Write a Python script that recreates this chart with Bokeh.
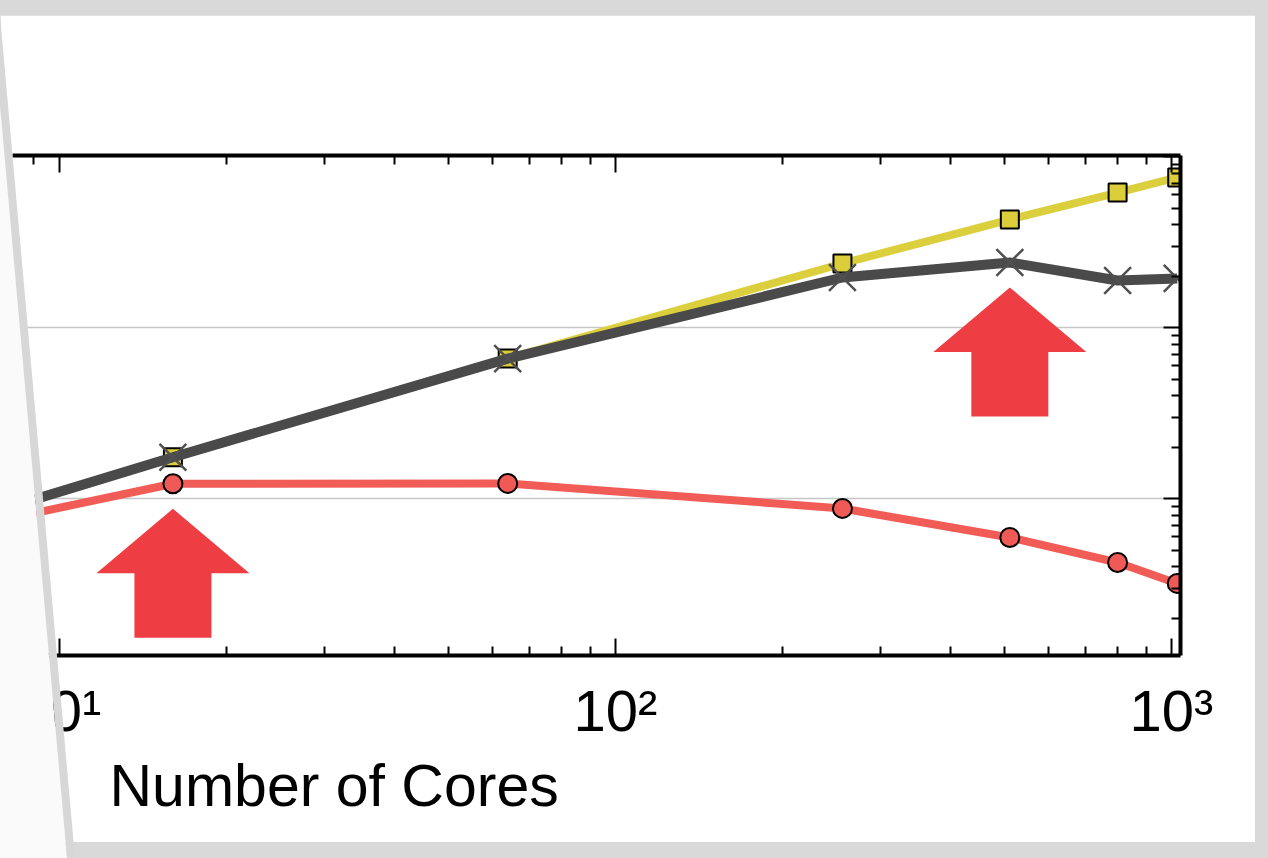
import math
from bokeh.plotting import figure
from bokeh.layouts import column
from bokeh.models import (Range1d, LogAxis, FixedTicker, CustomJSTickFormatter, Title, Div,
                          GlobalInlineStyleSheet)
from bokeh.embed import file_html
from bokeh.resources import INLINE

# ---------------- data ----------------
cores = [8, 16, 64, 256, 512, 800, 1024]
series_yellow = [8.8, 17.5, 66.2, 237.7, 429.6, 618.0, 757.0]
series_black = [8.8, 17.5, 66.0, 196.8, 241.0, 189.0, 194.5]
series_red = [7.6, 12.24, 12.3, 8.78, 5.94, 4.24, 3.20]
x_major_ticks = [10, 100, 1000]
x_tick_labels = ["10\u00b9", "10\u00b2", "10\u00b3"]
y_major_ticks = [1, 10, 100, 1000]
x_label = "Number of Cores"
arrow_cores = [16, 512]          # points the arrows mark
arrow_series = ["red", "black"]  # series whose point each arrow marks

# ---------------- figure ----------------
FONT = "Liberation Sans"
x_lo, x_hi = 8.234, 1038.0
y_lo, y_hi = 1.212, 1017.6
FW, FH = 1168, 500

p = figure(x_axis_type="log", y_axis_type="log",
           x_range=Range1d(x_lo, x_hi), y_range=Range1d(y_lo, y_hi),
           frame_width=FW, frame_height=FH,
           min_border_left=12, min_border_right=75, min_border_top=140, min_border_bottom=187,
           y_axis_location="right", output_backend="svg", toolbar_location=None,
           background_fill_color="white", border_fill_color="white",
           outline_line_color=None)

minor = [m * 10 ** e for e in range(0, 4) for m in range(2, 10)]
xticker = FixedTicker(ticks=x_major_ticks, minor_ticks=minor)
yticker = FixedTicker(ticks=y_major_ticks, minor_ticks=minor)
blank = CustomJSTickFormatter(code="return ''")


def style_axis(ax):
    ax.axis_line_width = 4
    ax.axis_line_color = "black"
    ax.major_tick_in = 17
    ax.major_tick_out = 0
    ax.minor_tick_in = 9
    ax.minor_tick_out = 0
    ax.major_tick_line_width = 2
    ax.minor_tick_line_width = 2
    ax.major_tick_line_color = "black"
    ax.minor_tick_line_color = "black"


xa = p.xaxis[0]
xa.ticker = xticker
xa.major_label_overrides = {t: s for t, s in zip(x_major_ticks, x_tick_labels)}
xa.major_label_text_font = FONT
xa.major_label_text_font_size = "58px"
xa.major_label_text_color = "black"
xa.major_label_standoff = 22
style_axis(xa)

top = LogAxis(ticker=xticker, formatter=blank)
style_axis(top)
p.add_layout(top, "above")

ya = p.yaxis[0]
ya.ticker = yticker
ya.formatter = blank
style_axis(ya)

p.xgrid.visible = False
p.ygrid.ticker = FixedTicker(ticks=y_major_ticks)
p.ygrid.grid_line_color = "#c6c6c6"
p.ygrid.grid_line_width = 1.5

# axis title, left-aligned under the axis
p.add_layout(Title(text=x_label, align="left", offset=97, standoff=11,
                   text_font=FONT, text_font_size="59px", text_font_style="normal",
                   text_color="black"), "below")

# ---------------- series ----------------
p.line(cores, series_red, line_color="#f25c57", line_width=8)
p.scatter(cores, series_red, marker="circle", size=19, fill_color="#f05a56",
          line_color="black", line_width=2)

p.line(cores, series_yellow, line_color="#dccf3e", line_width=8)
p.scatter(cores, series_yellow, marker="square", size=18, fill_color="#dccd3a",
          line_color="black", line_width=2)

p.line(cores, series_black, line_color="#4a4a4a", line_width=10)
p.scatter(cores, series_black, marker="x", size=38, line_color="#505050", line_width=2.5)

# ---------------- block arrows pointing at data points ----------------
px_x = FW / math.log10(x_hi / x_lo)
px_y = FH / math.log10(y_hi / y_lo)
lookup = {"red": series_red, "black": series_black, "yellow": series_yellow}
gap, head_h, head_w, shaft_w, shaft_h = 25, 64.5, 76.5, 38.5, 64.5
shape = [(0, 0), (head_w, head_h), (shaft_w, head_h), (shaft_w, head_h + shaft_h),
         (-shaft_w, head_h + shaft_h), (-shaft_w, head_h), (-head_w, head_h)]
for c, s in zip(arrow_cores, arrow_series):
    y0 = lookup[s][cores.index(c)]
    xs = [c * 10 ** (dx / px_x) for dx, dy in shape]
    ys = [y0 * 10 ** (-(gap + dy) / px_y) for dx, dy in shape]
    p.patch(xs, ys, fill_color="#ef3e43", line_color=None)

# ---------------- page decoration: gray top strip + slanted page edge ----------------
edge = ('<div style="position:fixed;left:0;top:0;width:1268px;height:858px;z-index:10;'
        'pointer-events:none;background:{c};clip-path:polygon({pts});"></div>')
overlay = (edge.format(c="#fafafa", pts="0px 15px, -8px 15px, 67px 858px, 0px 858px")
           + edge.format(c="#d7d7d7", pts="-8px 15px, 0px 15px, 75px 858px, 67px 858px"))
top_strip = Div(text=overlay, width=1255, height=15, margin=0)

layout = column(top_strip, p, spacing=0)
layout.stylesheets = [GlobalInlineStyleSheet(css="body { background-color: #d9d9d9; }")]

open("out.html", "w").write(file_html(layout, INLINE))
